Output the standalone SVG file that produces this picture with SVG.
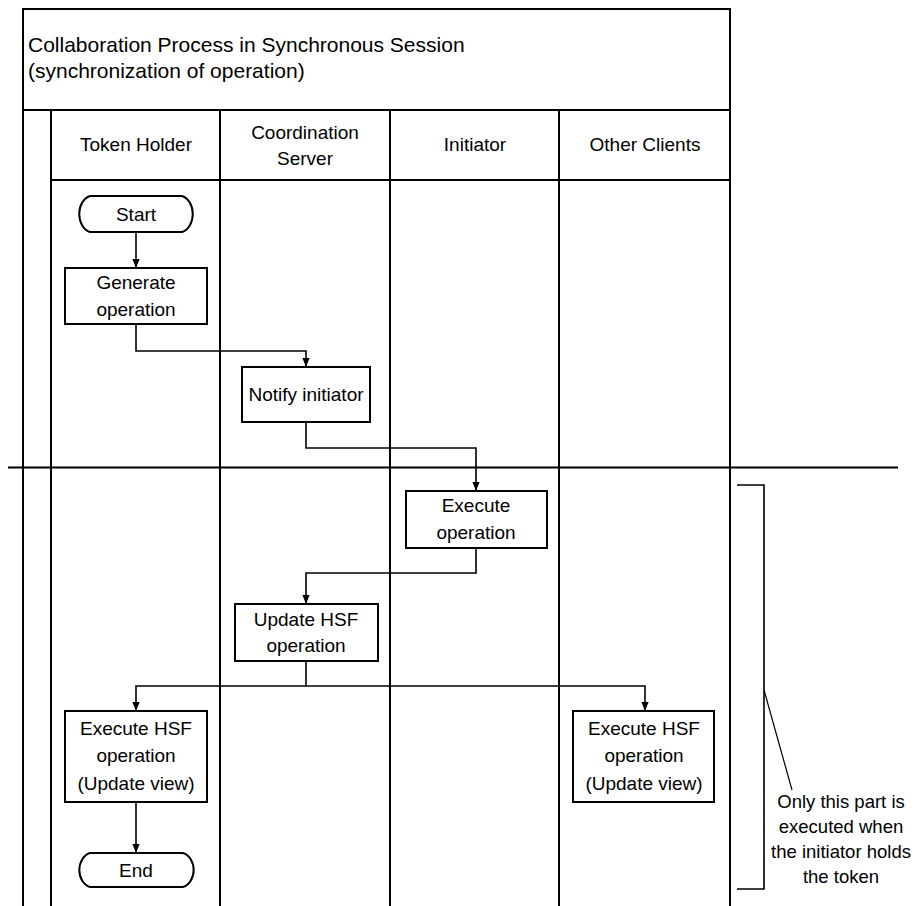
<svg xmlns="http://www.w3.org/2000/svg" width="915" height="906" viewBox="0 0 915 906">
  <style>
    .frame { fill: none; stroke: #000; stroke-width: 2; }
    .box { fill: #fff; stroke: #000; stroke-width: 2; }
    .conn { fill: none; stroke: #000; stroke-width: 1.6; }
    .note { fill: none; stroke: #000; stroke-width: 1.6; }
    text { font-family: "Liberation Sans", Arial, Helvetica, sans-serif; font-size: 19px; fill: #000; text-anchor: middle; }
    .title { font-size: 21px; text-anchor: start; }
    .ann { font-size: 18.5px; }
  </style>
  <defs>
    <marker id="arrow" viewBox="0 0 10 8" refX="10" refY="4" markerWidth="9" markerHeight="8" markerUnits="userSpaceOnUse" orient="auto">
      <path d="M0,0 L10,4 L0,8 Z" fill="#000"/>
    </marker>
  </defs>

  <rect width="915" height="906" fill="#fff"/>

  <!-- swimlane frame -->
  <g id="frame" class="frame">
    <rect x="23" y="9" width="707" height="101"/>
    <line x1="23" y1="110" x2="23" y2="906"/>
    <line x1="51" y1="110" x2="51" y2="906"/>
    <line x1="220" y1="110" x2="220" y2="906"/>
    <line x1="390" y1="110" x2="390" y2="906"/>
    <line x1="559" y1="110" x2="559" y2="906"/>
    <line x1="730" y1="110" x2="730" y2="906"/>
    <line x1="51" y1="180" x2="730" y2="180"/>
    <line x1="8" y1="467.5" x2="898" y2="467.5"/>
  </g>

  <g id="title">
    <text class="title" x="28" y="52">Collaboration Process in Synchronous Session</text>
    <text class="title" x="28" y="78">(synchronization of operation)</text>
  </g>

  <g id="lane-headers">
    <text x="136" y="151">Token Holder</text>
    <text x="305" y="139">Coordination</text>
    <text x="305" y="165">Server</text>
    <text x="475" y="151">Initiator</text>
    <text x="645" y="151">Other Clients</text>
  </g>

  <!-- connectors -->
  <g id="connectors" class="conn">
    <path d="M136,232 V268" marker-end="url(#arrow)"/>
    <path d="M136,324 V351 H306 V367" marker-end="url(#arrow)"/>
    <path d="M306,422 V448 H476 V491" marker-end="url(#arrow)"/>
    <path d="M476,548 V573 H306 V604" marker-end="url(#arrow)"/>
    <path d="M306,661 V686"/>
    <path d="M306,686 H136 V711" marker-end="url(#arrow)"/>
    <path d="M306,686 H645 V711" marker-end="url(#arrow)"/>
    <path d="M136,802 V853" marker-end="url(#arrow)"/>
  </g>

  <g id="start">
    <path class="box" d="M90,196 H182 A14,18.5 0 0 1 182,232 H90 A14,18.5 0 0 1 90,196 Z"/>
    <text x="136" y="221">Start</text>
  </g>

  <g id="generate-operation">
    <rect class="box" x="65" y="268" width="142" height="56"/>
    <text x="136" y="289">Generate</text>
    <text x="136" y="316">operation</text>
  </g>

  <g id="notify-initiator">
    <rect class="box" x="242" y="367" width="128" height="55"/>
    <text x="306" y="401">Notify initiator</text>
  </g>

  <g id="execute-operation">
    <rect class="box" x="406" y="491" width="141" height="57"/>
    <text x="476" y="512">Execute</text>
    <text x="476" y="539">operation</text>
  </g>

  <g id="update-hsf-operation">
    <rect class="box" x="235" y="604" width="143" height="57"/>
    <text x="306" y="626">Update HSF</text>
    <text x="306" y="652">operation</text>
  </g>

  <g id="execute-hsf-holder">
    <rect class="box" x="65" y="711" width="142" height="91"/>
    <text x="136" y="735">Execute HSF</text>
    <text x="136" y="762">operation</text>
    <text x="136" y="790">(Update view)</text>
  </g>

  <g id="execute-hsf-others">
    <rect class="box" x="573" y="711" width="141" height="91"/>
    <text x="644" y="735">Execute HSF</text>
    <text x="644" y="762">operation</text>
    <text x="644" y="790">(Update view)</text>
  </g>

  <g id="end">
    <path class="box" d="M90,853 H183 A14,17.5 0 0 1 183,887 H90 A14,17.5 0 0 1 90,853 Z"/>
    <text x="136" y="877">End</text>
  </g>

  <!-- bracket and its note -->
  <g id="note">
    <path class="note" d="M737,485 H764 V889 H737"/>
    <line x1="764" y1="690" x2="792" y2="790" stroke="#000" stroke-width="1.2"/>
    <text class="ann" x="841" y="808">Only this part is</text>
    <text class="ann" x="841" y="833">executed when</text>
    <text class="ann" x="841" y="858">the initiator holds</text>
    <text class="ann" x="841" y="883">the token</text>
  </g>
</svg>
